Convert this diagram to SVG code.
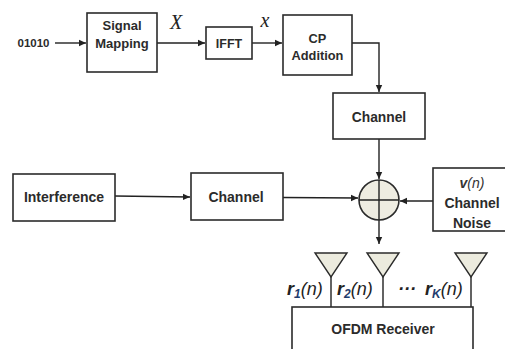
<svg xmlns="http://www.w3.org/2000/svg" width="505" height="349" viewBox="0 0 505 349">
<style>
.box{fill:#fff;stroke:#2b2b2b;stroke-width:1.6}
.lbl{font-family:"Liberation Sans",Arial,sans-serif;font-weight:bold;font-size:13.5px;fill:#2b2b2b;text-anchor:middle}
.con{fill:none;stroke:#222;stroke-width:1.4}
.ant{fill:#ecebde;stroke:#2b2b2b;stroke-width:1.4}
.math{font-family:"Liberation Serif","Times New Roman",serif;font-style:italic;font-size:20px;fill:#222}
.r{font-family:"Liberation Sans",Arial,sans-serif;font-style:italic;font-size:18px;fill:#222}
</style>
<defs>
<marker id="ah" markerWidth="8" markerHeight="8" refX="7" refY="4" orient="auto" markerUnits="userSpaceOnUse">
<path d="M0,0.8 L7,4 L0,7.2 Z" fill="#222"/>
</marker>
</defs>
<rect width="505" height="349" fill="#fff"/>
<g id="connectors">
<path class="con" d="M55,43 H86" marker-end="url(#ah)"/>
<path class="con" d="M157,43 H205" marker-end="url(#ah)"/>
<path class="con" d="M252,43 H282" marker-end="url(#ah)"/>
<path class="con" d="M352,43 H379 V92" marker-end="url(#ah)"/>
<path class="con" d="M379,139 V179" marker-end="url(#ah)"/>
<path class="con" d="M115,196 L190,197" marker-end="url(#ah)"/>
<path class="con" d="M283,197.5 L358,198" marker-end="url(#ah)"/>
<path class="con" d="M433,201 H400" marker-end="url(#ah)"/>
<path class="con" d="M379,220 V244" marker-end="url(#ah)"/>
<text class="math" x="176" y="29" text-anchor="middle">X</text>
<text class="math" x="265" y="27" text-anchor="middle">x</text>
</g>
<g id="input">
<text class="lbl" x="33.5" y="47" style="font-size:11.5px">01010</text>
</g>
<g id="signal-mapping">
<rect class="box" x="87" y="13" width="70" height="59"/>
<text class="lbl" x="122" y="29.5" style="font-size:13px">Signal</text>
<text class="lbl" x="122" y="47.5" style="font-size:13px">Mapping</text>
</g>
<g id="ifft">
<rect class="box" x="206" y="27" width="46" height="32"/>
<text class="lbl" x="229" y="48" style="font-size:12.5px">IFFT</text>
</g>
<g id="cp-addition">
<rect class="box" x="283" y="15" width="69" height="60"/>
<text class="lbl" x="317.5" y="43" style="font-size:12.8px">CP</text>
<text class="lbl" x="317.5" y="60" style="font-size:12.8px">Addition</text>
</g>
<g id="channel1">
<rect class="box" x="333" y="93" width="92" height="46"/>
<text class="lbl" x="379" y="121.5" style="font-size:13.8px">Channel</text>
</g>
<g id="interference">
<rect class="box" x="13" y="174" width="102" height="47"/>
<text class="lbl" x="64" y="202" style="font-size:14px">Interference</text>
</g>
<g id="channel2">
<rect class="box" x="191" y="173" width="92" height="47"/>
<text class="lbl" x="236" y="202" style="font-size:14px">Channel</text>
</g>
<g id="adder">
<circle cx="379" cy="200" r="20" fill="#eeece1" stroke="#2b2b2b" stroke-width="1.6"/>
<path d="M379,180 V220 M359,200 H399" stroke="#222" stroke-width="1.4"/>
</g>
<g id="channel-noise">
<rect class="box" x="433" y="168" width="80" height="63"/>
<text x="472" y="188" style="font-family:'Liberation Sans',Arial,sans-serif;font-style:italic;font-size:14px;fill:#333" text-anchor="middle"><tspan font-weight="bold">v</tspan>(n)</text>
<text class="lbl" x="472" y="208" style="font-size:14px">Channel</text>
<text class="lbl" x="472" y="228" style="font-size:14px">Noise</text>
</g>
<g id="antennas">
<path class="con" d="M331,277 V307 M383,277 V307 M471,277 V307"/>
<path class="ant" d="M315,253 H347 L331,277 Z"/>
<path class="ant" d="M367,253 H399 L383,277 Z"/>
<path class="ant" d="M455,253 H487 L471,277 Z"/>
<text class="r" x="287" y="295"><tspan font-weight="bold">r</tspan><tspan font-weight="bold" font-size="12" dy="3" fill="#1f3c6e">1</tspan><tspan dy="-3">(n)</tspan></text>
<text class="r" x="337" y="295"><tspan font-weight="bold">r</tspan><tspan font-weight="bold" font-size="12" dy="3" fill="#1f3c6e">2</tspan><tspan dy="-3">(n)</tspan></text>
<text class="r" x="398" y="295"><tspan font-weight="bold">··· </tspan><tspan font-weight="bold" x="425">r</tspan><tspan font-weight="bold" font-size="12" dy="3" fill="#1f3c6e">K</tspan><tspan dy="-3">(n)</tspan></text>
</g>
<g id="ofdm-receiver">
<rect class="box" x="292" y="307" width="181" height="60"/>
<text class="lbl" x="383" y="334" style="font-size:14px">OFDM Receiver</text>
</g>
</svg>
